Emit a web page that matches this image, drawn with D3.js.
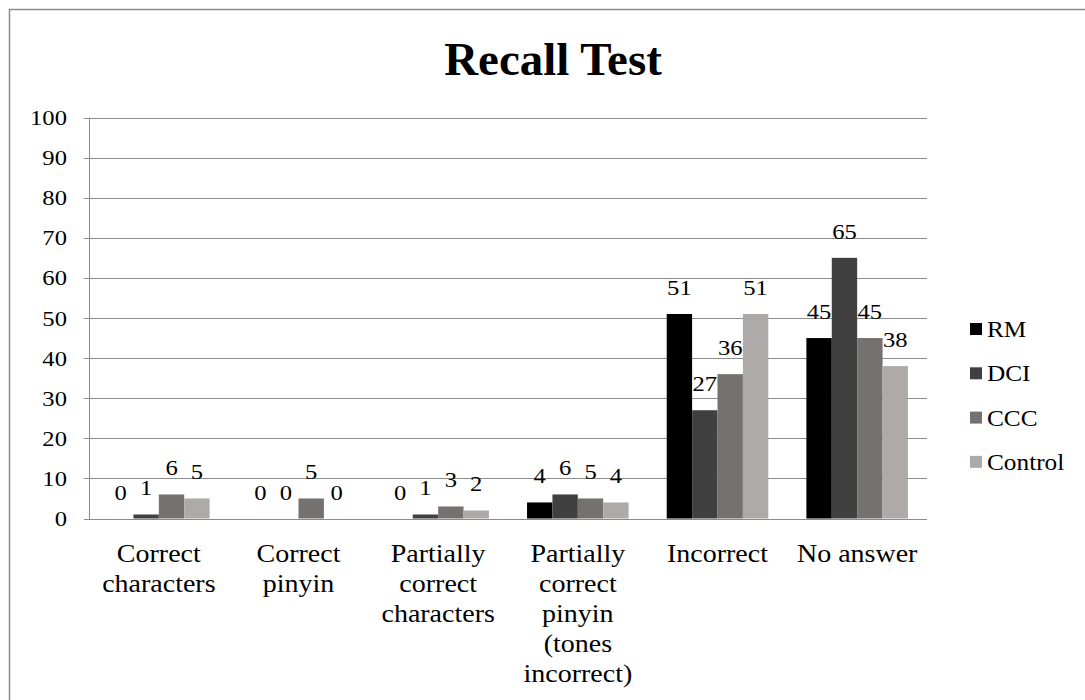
<!DOCTYPE html>
<html>
<head>
<meta charset="utf-8">
<script src="https://cdn.jsdelivr.net/npm/d3@7/dist/d3.min.js"></script>
<style>
  html, body { margin: 0; padding: 0; background: #fff; }
  svg { display: block; }
</style>
</head>
<body>
<svg id="chart" width="1085" height="700"></svg>
<script>
const title = "Recall Test";
const categories = [
  "Correct\ncharacters",
  "Correct\npinyin",
  "Partially\ncorrect\ncharacters",
  "Partially\ncorrect\npinyin\n(tones\nincorrect)",
  "Incorrect",
  "No answer"
];
const seriesNames = ["RM", "DCI", "CCC", "Control"];
const seriesColors = ["#000000", "#404040", "#767171", "#aeaaaa"];
const RM      = [0, 0, 0, 4, 51, 45];
const DCI     = [1, 0, 1, 6, 27, 65];
const CCC     = [6, 5, 3, 5, 36, 45];
const Control = [5, 0, 2, 4, 51, 38];
const seriesValues = [RM, DCI, CCC, Control];
const yTicks = [0, 10, 20, 30, 40, 50, 60, 70, 80, 90, 100];

const FONT = "'Liberation Serif', 'Times New Roman', Tinos, serif";
const SX = 1.12; // horizontal stretch of the source rendering
const svg = d3.select("#chart")
  .attr("font-family", FONT)
  .style("font-family", FONT);

// outer chart border
svg.append("rect")
  .attr("x", 9.5).attr("y", 9.5).attr("width", 1200).attr("height", 800)
  .attr("fill", "none").attr("stroke", "#8a8a8a").attr("stroke-width", 1.5);

const plot = { left: 89, right: 927, top: 117.5, bottom: 518.5 };

const y = d3.scaleLinear().domain([0, 100]).range([plot.bottom, plot.top]);
const x0 = d3.scaleBand().domain(categories).range([plot.left, plot.right]).padding(0);
const x1 = d3.scaleBand().domain(seriesNames).range([0, x0.bandwidth()])
  .paddingInner(0).paddingOuter(0.75);

function txt(sel) {
  return sel.attr("font-family", FONT).style("font-family", FONT).attr("fill", "#000");
}

// gridlines
svg.append("g").selectAll("line").data(yTicks).join("line")
  .attr("x1", plot.left - 5).attr("x2", plot.right)
  .attr("y1", d => Math.round(y(d)) + 0.5).attr("y2", d => Math.round(y(d)) + 0.5)
  .attr("stroke", "#8c8c8c").attr("stroke-width", 1);

// y axis line
svg.append("line")
  .attr("x1", plot.left + 0.5).attr("x2", plot.left + 0.5)
  .attr("y1", y(100)).attr("y2", y(0) + 0.5)
  .attr("stroke", "#8c8c8c").attr("stroke-width", 1);

// y tick labels
txt(svg.append("g").selectAll("text").data(yTicks).join("text"))
  .attr("transform", d => `translate(67,${y(d) + 7.5}) scale(${SX},1)`)
  .attr("text-anchor", "end")
  .style("font-size", "22px")
  .text(d => d);

// bars
const rows = [];
seriesNames.forEach((s, si) => {
  categories.forEach((c, ci) => {
    rows.push({ s, si, c, v: seriesValues[si][ci] });
  });
});

svg.append("g").selectAll("rect").data(rows).join("rect")
  .attr("x", d => x0(d.c) + x1(d.s))
  .attr("y", d => y(d.v))
  .attr("width", x1.bandwidth())
  .attr("height", d => y(0) - y(d.v))
  .attr("fill", d => seriesColors[d.si]);

// data labels
txt(svg.append("g").selectAll("text").data(rows).join("text"))
  .attr("transform", d => `translate(${x0(d.c) + x1(d.s) + x1.bandwidth() / 2},${y(d.v) - 19}) scale(${SX},1)`)
  .attr("text-anchor", "middle")
  .style("font-size", "22px")
  .text(d => d.v);

// category labels
const cat = svg.append("g").selectAll("g").data(categories).join("g");
cat.each(function (c) {
  const lines = c.split("\n");
  const cx = x0(c) + x0.bandwidth() / 2;
  txt(d3.select(this).selectAll("text").data(lines).join("text"))
    .attr("transform", (l, i) => `translate(${cx},${562 + i * 30}) scale(${SX},1)`)
    .attr("text-anchor", "middle")
    .style("font-size", "25px")
    .text(l => l);
});

// title
txt(svg.append("text"))
  .attr("transform", `translate(553,75) scale(1.02,1)`)
  .attr("text-anchor", "middle")
  .style("font-size", "46px")
  .style("font-weight", "bold")
  .text(title);

// legend
const leg = svg.append("g").selectAll("g").data(seriesNames).join("g")
  .attr("transform", (d, i) => `translate(970,${329 + i * 44.3})`);
leg.append("rect")
  .attr("x", 0).attr("y", -6).attr("width", 12).attr("height", 12)
  .attr("fill", (d, i) => seriesColors[i]);
txt(leg.append("text"))
  .attr("transform", `translate(17,8) scale(1.1,1)`)
  .style("font-size", "23px")
  .text(d => d);
</script>
</body>
</html>
